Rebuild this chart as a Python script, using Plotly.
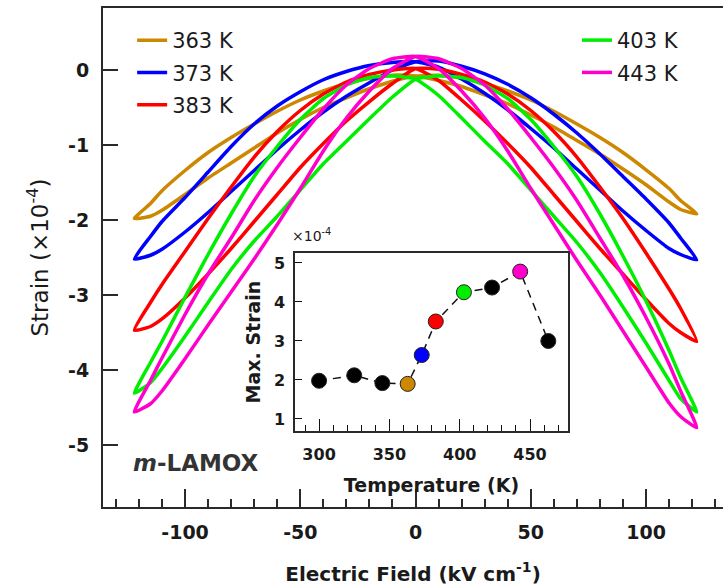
import plotly.graph_objects as go

# ---------------- data ----------------
field = [-122, -115, -110, -100, -90, -80, -70, -60, -50, -40, -30, -20, -10, 0,
         10, 20, 30, 40, 50, 60, 70, 80, 90, 100, 110, 115, 122]

temps_loop = ["363 K", "373 K", "383 K", "403 K", "443 K"]
loop_colors = ["#CC8800", "#0000FF", "#FF0000", "#00EE00", "#FF00CC"]

# branch "up": upper on the left wing, lower on the right wing
# branch "down": lower on the left wing, upper on the right wing
s363_up = [-1.98, -1.78, -1.61, -1.34, -1.10, -0.90, -0.72, -0.55, -0.40, -0.28, -0.18, -0.11, -0.07, -0.08,
           -0.14, -0.22, -0.33, -0.45, -0.60, -0.76, -0.94, -1.12, -1.32, -1.53, -1.76, -1.86, -1.92]
s363_dn = [-1.98, -1.95, -1.87, -1.66, -1.44, -1.24, -1.04, -0.84, -0.66, -0.50, -0.37, -0.25, -0.15, -0.08,
           -0.07, -0.11, -0.18, -0.28, -0.40, -0.55, -0.72, -0.90, -1.10, -1.33, -1.58, -1.74, -1.92]

s373_up = [-2.52, -2.22, -2.02, -1.70, -1.36, -1.02, -0.72, -0.48, -0.29, -0.13, -0.02, 0.06, 0.10, 0.11,
           0.04, -0.12, -0.31, -0.53, -0.78, -1.04, -1.32, -1.60, -1.88, -2.14, -2.38, -2.46, -2.53]
s373_dn = [-2.52, -2.47, -2.39, -2.16, -1.90, -1.62, -1.34, -1.06, -0.80, -0.56, -0.35, -0.17, 0.00, 0.11,
           0.12, 0.05, -0.05, -0.19, -0.37, -0.59, -0.84, -1.12, -1.42, -1.72, -2.04, -2.24, -2.53]

s383_up = [-3.47, -3.10, -2.86, -2.42, -1.98, -1.56, -1.16, -0.82, -0.54, -0.32, -0.16, -0.06, 0.00, 0.02,
           -0.14, -0.40, -0.68, -0.98, -1.30, -1.66, -2.02, -2.38, -2.72, -3.06, -3.38, -3.50, -3.62]
s383_dn = [-3.47, -3.42, -3.32, -3.04, -2.72, -2.38, -2.02, -1.66, -1.30, -0.98, -0.68, -0.42, -0.18, 0.02,
           0.01, -0.06, -0.16, -0.32, -0.54, -0.82, -1.16, -1.56, -1.98, -2.44, -2.92, -3.18, -3.62]

s403_up = [-4.31, -3.90, -3.62, -3.03, -2.46, -1.92, -1.42, -1.02, -0.66, -0.38, -0.20, -0.10, -0.08, -0.12,
           -0.34, -0.64, -0.95, -1.25, -1.60, -1.95, -2.30, -2.70, -3.16, -3.64, -4.14, -4.38, -4.56]
s403_dn = [-4.31, -4.17, -3.98, -3.55, -3.10, -2.66, -2.28, -1.95, -1.60, -1.25, -0.95, -0.65, -0.36, -0.12,
           -0.08, -0.10, -0.20, -0.38, -0.66, -1.02, -1.42, -1.92, -2.48, -3.08, -3.74, -4.10, -4.56]

s443_up = [-4.56, -4.14, -3.84, -3.26, -2.72, -2.24, -1.74, -1.30, -0.90, -0.52, -0.20, 0.02, 0.15, 0.18,
           0.02, -0.28, -0.64, -1.08, -1.58, -2.06, -2.54, -3.00, -3.48, -3.96, -4.44, -4.62, -4.77]
s443_dn = [-4.56, -4.45, -4.28, -3.85, -3.40, -2.96, -2.52, -2.06, -1.58, -1.08, -0.64, -0.28, 0.02, 0.18,
           0.15, 0.02, -0.20, -0.52, -0.90, -1.30, -1.74, -2.24, -2.74, -3.30, -3.92, -4.28, -4.77]

loops_up = [s363_up, s373_up, s383_up, s403_up, s443_up]
loops_dn = [s363_dn, s373_dn, s383_dn, s403_dn, s443_dn]
loop_legend = ["legend", "legend", "legend", "legend2", "legend2"]

# inset: maximum strain vs temperature
inset_temp = [300, 325, 345, 363, 373, 383, 403, 423, 443, 463]
inset_max_strain = [1.98, 2.12, 1.92, 1.90, 2.64, 3.50, 4.25, 4.37, 4.78, 3.00]
inset_colors = ["#000000", "#000000", "#000000", "#CC8800", "#0000FF", "#FF0000",
                "#00EE00", "#000000", "#FF00CC", "#000000"]

x_tickvals = [-100, -50, 0, 50, 100]
x_ticktext = ["-100", "-50", "0", "50", "100"]
y_tickvals = [-5, -4, -3, -2, -1, 0]
y_ticktext = ["-5", "-4", "-3", "-2", "-1", "0"]
ix_tickvals = [300, 350, 400, 450]
iy_tickvals = [1, 2, 3, 4, 5]

# ---------------- figure ----------------
FONT = "DejaVu Sans"
INK = "#1a1a1a"
fig = go.Figure()

for name, col, up, dn, lg in zip(temps_loop, loop_colors, loops_up, loops_dn, loop_legend):
    xs = field + field[::-1][1:]
    ys = up + dn[::-1][1:]
    fig.add_trace(go.Scatter(
        x=xs, y=ys, mode="lines", name=name, legend=lg, legendgroup=name,
        line=dict(color=col, width=3.5, shape="spline", smoothing=0.5),
    ))

fig.add_trace(go.Scatter(
    x=inset_temp, y=inset_max_strain, mode="lines+markers", showlegend=False,
    xaxis="x2", yaxis="y2",
    line=dict(color="#111111", width=1.5, dash="8px,6px"),
    marker=dict(size=15, color=inset_colors, line=dict(color="#222222", width=1)),
))

axis_common = dict(showgrid=False, zeroline=False, showline=True, linecolor="#2a2a2a")

fig.update_layout(
    width=723, height=587,
    margin=dict(l=103, r=0, t=8, b=80),
    paper_bgcolor="white", plot_bgcolor="white",
    font=dict(family=FONT, color=INK),
    xaxis=dict(
        **axis_common, linewidth=2, mirror=True,
        range=[-135.6, 133.4],
        tickmode="array", tickvals=x_tickvals, ticktext=x_ticktext,
        ticks="inside", ticklen=18, tickwidth=1.8, tickcolor="#2a2a2a",
        minor=dict(tickmode="linear", tick0=0, dtick=10, ticks="inside", ticklen=8,
                   tickwidth=1.8, tickcolor="#2a2a2a"),
        tickfont=dict(family=FONT, size=19, weight="bold", color=INK),
        ticklabelstandoff=7,
        title=dict(text="Electric Field (kV cm<sup>-1</sup>)",
                   font=dict(family=FONT, size=20, weight="bold", color=INK),
                   standoff=25),
    ),
    yaxis=dict(
        **axis_common, linewidth=2, mirror=False,
        range=[-5.827, 0.827],
        tickmode="array", tickvals=y_tickvals, ticktext=y_ticktext,
        ticks="inside", ticklen=15, tickwidth=2, tickcolor="#2a2a2a",
        tickfont=dict(family=FONT, size=19, weight="bold", color=INK),
        ticklabelstandoff=8,
        title=dict(text="Strain (×10<sup>-4</sup>)",
                   font=dict(family=FONT, size=23, color=INK),
                   standoff=13),
    ),
    xaxis2=dict(
        **axis_common, linewidth=1.5, mirror=True, anchor="y2",
        domain=[0.3097, 0.75], range=[282.9, 477.0],
        tickmode="array", tickvals=ix_tickvals,
        ticks="inside", ticklen=12, tickwidth=1.2, tickcolor="#111",
        minor=dict(tickmode="linear", tick0=300, dtick=10, ticks="inside", ticklen=6,
                   tickwidth=1.2, tickcolor="#111"),
        tickfont=dict(family=FONT, size=16, weight="bold", color=INK),
        ticklabelstandoff=8,
        title=dict(text="Temperature (K)",
                   font=dict(family=FONT, size=19, weight="bold", color=INK),
                   standoff=16),
    ),
    yaxis2=dict(
        **axis_common, linewidth=1.5, mirror=True, anchor="x2",
        domain=[0.1523, 0.509], range=[0.692, 5.256],
        tickmode="array", tickvals=iy_tickvals,
        ticks="inside", ticklen=7, tickwidth=1.2, tickcolor="#111",
        tickfont=dict(family=FONT, size=16, weight="bold", color=INK),
        ticklabelstandoff=5,
        title=dict(text="Max. Strain",
                   font=dict(family=FONT, size=19, weight="bold", color=INK),
                   standoff=8),
    ),
    legend=dict(x=0.047, y=0.976, xanchor="left", yanchor="top",
                bgcolor="rgba(0,0,0,0)", font=dict(family=FONT, size=21, color=INK),
                tracegroupgap=2, itemwidth=30),
    legend2=dict(x=0.7645, y=0.976, xanchor="left", yanchor="top",
                 bgcolor="rgba(0,0,0,0)", font=dict(family=FONT, size=21, color=INK),
                 tracegroupgap=2, itemwidth=30),
    annotations=[
        dict(text="×10<sup>-4</sup>", xref="paper", yref="paper", x=0.337, y=0.545,
             xanchor="center", yanchor="middle",
             showarrow=False, font=dict(family=FONT, size=14, color=INK)),
        dict(text="<i>m</i>-LAMOX", xref="paper", yref="paper", x=0.15, y=0.088,
             xanchor="center", yanchor="middle",
             showarrow=False, font=dict(family=FONT, size=23, weight="bold", color="#333333")),
    ],
)

fig.write_html("out.html")
